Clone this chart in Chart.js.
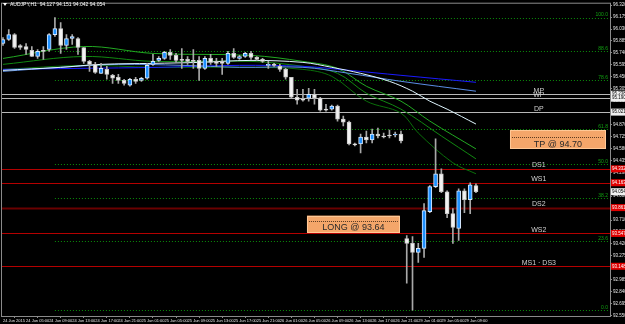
<!DOCTYPE html>
<html><head><meta charset="utf-8">
<script src="https://cdn.jsdelivr.net/npm/chart.js@4/dist/chart.umd.min.js"></script>
<style>html,body{margin:0;padding:0;background:#000;overflow:hidden}#wrap{width:625px;height:324px}</style>
</head><body><div id="wrap"><canvas id="c" width="625" height="324"></canvas></div>
<script>
// ---------- DATA ----------
const titleText = "AUDJPY,H1  94.127 94.151 94.042 94.054";
const opens = [95.855,95.903,95.963,95.830,95.818,95.770,95.697,95.770,95.782,95.963,96.036,95.830,95.915,95.915,95.806,95.637,95.601,95.492,95.540,95.468,95.444,95.407,95.347,95.420,95.407,95.432,95.601,95.649,95.673,95.746,95.710,95.661,95.661,95.649,95.649,95.552,95.673,95.637,95.637,95.613,95.734,95.673,95.697,95.734,95.685,95.661,95.589,95.601,95.577,95.540,95.444,95.202,95.178,95.190,95.238,95.190,95.057,95.057,95.093,94.936,94.900,94.634,94.634,94.719,94.682,94.755,94.731,94.743,94.743,94.755,93.486,93.426,93.317,93.365,93.812,94.115,94.272,94.054,93.788,93.607,94.066,93.957,94.127];
const highs = [95.927,96.024,95.975,95.842,95.855,95.818,95.782,95.818,95.975,96.169,96.108,95.963,95.963,95.927,95.806,95.649,95.625,95.613,95.577,95.480,95.480,95.420,95.432,95.444,95.444,95.613,95.722,95.697,95.758,95.782,95.734,95.794,95.697,95.782,95.697,95.697,95.722,95.673,95.673,95.758,95.794,95.710,95.746,95.758,95.697,95.673,95.637,95.613,95.601,95.552,95.444,95.299,95.299,95.311,95.299,95.202,95.117,95.105,95.105,94.972,94.912,94.646,94.755,94.791,94.815,94.827,94.767,94.803,94.779,94.791,93.522,93.510,93.426,93.909,94.127,94.695,94.332,94.066,93.849,94.090,94.090,94.163,94.151];
const lows = [95.830,95.891,95.794,95.782,95.722,95.697,95.673,95.661,95.758,95.939,95.734,95.782,95.842,95.722,95.613,95.516,95.492,95.492,95.420,95.371,95.371,95.347,95.335,95.371,95.395,95.420,95.589,95.637,95.661,95.661,95.625,95.552,95.601,95.552,95.407,95.540,95.601,95.577,95.480,95.601,95.673,95.661,95.685,95.661,95.649,95.625,95.552,95.577,95.516,95.420,95.190,95.117,95.154,95.154,95.117,95.033,95.033,95.045,94.912,94.852,94.622,94.610,94.525,94.646,94.646,94.707,94.707,94.707,94.719,94.646,92.943,92.616,93.196,93.257,93.800,94.102,94.042,93.740,93.426,93.462,93.800,93.788,94.042];
const closes = [95.903,95.963,95.806,95.806,95.782,95.697,95.758,95.758,95.963,96.036,95.830,95.915,95.939,95.806,95.637,95.601,95.504,95.552,95.480,95.432,95.407,95.371,95.420,95.395,95.432,95.589,95.637,95.673,95.746,95.710,95.649,95.649,95.637,95.637,95.552,95.673,95.625,95.613,95.613,95.734,95.685,95.697,95.734,95.685,95.661,95.637,95.601,95.589,95.540,95.444,95.202,95.166,95.166,95.238,95.190,95.045,95.045,95.093,94.936,94.900,94.634,94.622,94.719,94.682,94.755,94.731,94.719,94.731,94.755,94.670,93.426,93.317,93.365,93.825,94.115,94.272,94.054,93.788,93.619,94.066,93.957,94.139,94.054];

// moving averages: [barIndex, price]
const maBlue = [[0,95.540],[13,95.552],[27,95.565],[41,95.589],[52,95.577],[60,95.528],[69,95.468],[82,95.383]];
const maSteel = [[0,95.516],[10,95.565],[20,95.601],[31,95.589],[41,95.565],[52,95.565],[60,95.492],[69,95.395],[82,95.275]];
const maCyan = [[0,95.528],[10,95.565],[17,95.601],[26,95.613],[34,95.625],[43,95.649],[52,95.625],[57,95.565],[62,95.492],[67,95.395],[71,95.275],[74,95.154],[77,95.057],[82,94.876]];
const maGreen1 = [[0,95.673],[14,95.818],[26,95.734],[43,95.710],[52,95.637],[58,95.552],[63,95.335],[69,95.154],[74,94.912],[82,94.574]];
const maGreen2 = [[0,95.601],[14,95.697],[26,95.637],[43,95.637],[52,95.577],[58,95.492],[63,95.250],[69,95.057],[76,94.731],[82,94.453]];
const maGreen3 = [[0,95.540],[14,95.589],[26,95.565],[43,95.565],[52,95.540],[57,95.456],[63,95.154],[69,95.009],[72,94.767],[78,94.405],[82,94.272]];

// fibonacci levels (drawn from bar 9 to the right)
const fibStartIdx = 9;
const fibLabels = ["100.0","88.6","78.6","61.8","50.0","38.2","23.6","0.0"];
const fibPrices = [96.169,95.764,95.409,94.812,94.393,93.973,93.455,92.616];

// pivot levels
const pivotNames = ["MP","WP","DP","DS1","WS1","DS2","WS2","MS1 · DS3"];
const pivotPrices = [95.238,95.190,95.021,94.332,94.163,93.861,93.547,93.148];
const pivotKinds = ["grey","grey","grey","red","red","dark","red","red"];
const pivotLabelIdx = 92.9;

// trade boxes
const tradeTexts = ["TP @ 94.70","LONG @ 93.64"];
const tradeFromIdx = [87.9,52.7];
const tradeToIdx = [104.5,68.8];
const tradeTop = [94.803,93.764];
const tradeBottom = [94.574,93.559];
const tradeLine = [94.719,93.695];

const lastPrice = 94.054;

// axis ticks
const xTickIdx = [0,4,8,12,16,20,24,28,32,36,40,44,48,52,56,60,64,68,72,76,80];
const xTickLabels = ["24 Jun 2015","24 Jun 05:00","24 Jun 09:00","24 Jun 13:00","24 Jun 17:00","24 Jun 21:00","25 Jun 01:00","25 Jun 05:00","25 Jun 09:00","25 Jun 13:00","25 Jun 17:00","25 Jun 21:00","26 Jun 01:00","26 Jun 05:00","26 Jun 09:00","26 Jun 13:00","26 Jun 17:00","26 Jun 21:00","29 Jun 01:00","29 Jun 05:00","29 Jun 09:00"];
const yTicks = [96.320,96.175,96.030,95.885,95.740,95.595,95.450,95.305,95.160,95.015,94.870,94.725,94.580,94.435,94.290,94.145,94.000,93.855,93.710,93.565,93.420,93.275,93.130,92.985,92.840,92.695,92.550];

// ---------- CHART ----------
const BULL = '#1e90ff', BEAR = '#f2f2f2';
const isBull = i => closes[i] >= opens[i];
const wickData = highs.map((h,i)=>({x:i, y:[lows[i], h]}));
const bodyData = opens.map((o,i)=>({x:i, y:[Math.min(o,closes[i]), Math.max(o,closes[i])]}));
const toXY = arr => arr.map(p=>({x:p[0], y:p[1]}));
function lineDS(arr,color){ return {type:'line', data:toXY(arr), borderColor:color, borderWidth:1, pointRadius:0, tension:0.35, fill:false}; }

const overlay = {
  id:'overlay',
  beforeDraw(chart){ const c=chart.ctx; c.save(); c.fillStyle='#000'; c.fillRect(0,0,chart.width,chart.height); c.restore(); },
  beforeDatasetsDraw(chart){
    const {ctx:c, chartArea:a, scales:{x,y}} = chart;
    c.save();
    c.lineWidth = 1;
    c.setLineDash([1,2]); c.strokeStyle = '#0b8f0b';
    fibPrices.forEach(p=>{ const py=Math.round(y.getPixelForValue(p))+0.5; c.beginPath(); c.moveTo(x.getPixelForValue(fibStartIdx),py); c.lineTo(a.right-2,py); c.stroke(); });
    c.setLineDash([]);
    pivotPrices.forEach((p,i)=>{
      const py=Math.round(y.getPixelForValue(p))+0.5;
      c.strokeStyle = pivotKinds[i]==='grey' ? '#b8b8b8' : (pivotKinds[i]==='dark' ? '#6a0000' : '#b40000');
      c.lineWidth = pivotKinds[i]==='dark' ? 2 : 1;
      c.beginPath(); c.moveTo(a.left,py); c.lineTo(a.right,py); c.stroke();
    });
    c.restore();
  },
  afterDraw(chart){
    const {ctx:c, chartArea:a, scales:{x,y}} = chart;
    c.save();
    // fib labels
    c.fillStyle = '#10a010'; c.font = '5px Arial'; c.textAlign='right'; c.textBaseline='bottom';
    fibPrices.forEach((p,i)=>{ c.fillText(fibLabels[i], a.right-2, y.getPixelForValue(p)); });
    // pivot labels
    c.fillStyle = '#cfcfcf'; c.font = '7px Arial'; c.textAlign='center'; c.textBaseline='bottom';
    pivotPrices.forEach((p,i)=>{ c.fillText(pivotNames[i], x.getPixelForValue(pivotLabelIdx), y.getPixelForValue(p)); });
    // trade boxes
    tradeTexts.forEach((t,i)=>{
      const x0=x.getPixelForValue(tradeFromIdx[i]), x1=x.getPixelForValue(tradeToIdx[i]);
      const y0=y.getPixelForValue(tradeTop[i]), y1=y.getPixelForValue(tradeBottom[i]);
      c.fillStyle='#f4a66a'; c.fillRect(x0,y0,x1-x0,y1-y0);
      c.strokeStyle='#ffc896'; c.lineWidth=1; c.strokeRect(Math.round(x0)+0.5,Math.round(y0)+0.5,Math.round(x1-x0)-1,Math.round(y1-y0)-1);
      const ly=Math.round(y.getPixelForValue(tradeLine[i]))+0.5;
      c.setLineDash([1,1]); c.strokeStyle='#5a3a20'; c.beginPath(); c.moveTo(x0+2,ly); c.lineTo(x1-2,ly); c.stroke(); c.setLineDash([]);
      c.fillStyle='#2a2a2a'; c.font='9px Arial'; c.textAlign='center'; c.textBaseline='middle';
      c.fillText(t,(x0+x1)/2,(ly+y1)/2+1);
    });
    // axis price boxes
    c.font='4.5px Arial'; c.textAlign='left'; c.textBaseline='middle';
    pivotPrices.forEach((p,i)=>{
      const py=y.getPixelForValue(p);
      const red = pivotKinds[i]!=='grey';
      c.fillStyle = red ? '#e00000' : '#f0f0f0'; c.fillRect(a.right+1,py-3.5,14,7);
      c.fillStyle = red ? '#ffffff' : '#000000'; c.fillText(p.toFixed(3), a.right+2, py);
    });
    const lp=y.getPixelForValue(lastPrice);
    c.fillStyle='#f0f0f0'; c.fillRect(a.right+1,lp-3.5,14,7);
    c.fillStyle='#000'; c.fillText(lastPrice.toFixed(3), a.right+2, lp);
    // frame
    c.strokeStyle='#8a8a8a'; c.lineWidth=1; c.strokeRect(a.left-0.5,a.top-0.5,a.right-a.left+1,a.bottom-a.top+1);
    // title
    c.fillStyle='#ffffff'; c.beginPath(); c.moveTo(3,3); c.lineTo(7,3); c.lineTo(5,6); c.closePath(); c.fill();
    c.font='5px Arial'; c.textAlign='left'; c.textBaseline='middle'; c.fillText(titleText,10,5);
    c.restore();
  }
};

new Chart(document.getElementById('c'), {
  type:'bar',
  data:{ datasets:[
    {type:'bar', data:bodyData, grouped:false, barThickness:4, minBarLength:1, borderSkipped:false, borderWidth:1,
      backgroundColor: ctx=> isBull(ctx.dataIndex)?BULL:BEAR, borderColor: ctx=> isBull(ctx.dataIndex)?'#d6e8ff':'#c8c8c8'},
    {type:'bar', data:wickData, grouped:false, barThickness:1, borderWidth:0, backgroundColor:'#a8a8a8'},
    lineDS(maCyan,'#dff6ff'),
    lineDS(maSteel,'#5b8ee6'),
    lineDS(maBlue,'#1a1aff'),
    lineDS(maGreen1,'#22a822'),
    lineDS(maGreen2,'#118811'),
    lineDS(maGreen3,'#0a6e0a')
  ]},
  options:{
    responsive:false, animation:false, events:[],
    layout:{padding:{left:2,top:2,right:0,bottom:0}},
    plugins:{legend:{display:false}, tooltip:{enabled:false}},
    scales:{
      x:{type:'linear', min:-0.173, max:105.24, offset:false,
        grid:{drawOnChartArea:false, tickLength:2, color:'#8a8a8a'}, border:{color:'#8a8a8a'},
        afterBuildTicks: s=>{ s.ticks = xTickIdx.map(v=>({value:v})); },
        afterFit: s=>{ s.height = 8; },
        ticks:{autoSkip:false, maxRotation:0, minRotation:0, align:'start', padding:0, color:'#e6e6e6', font:{size:4, family:'Arial'},
          callback: v=> xTickLabels[xTickIdx.indexOf(v)] }},
      y:{type:'linear', position:'right', min:92.544, max:96.338,
        grid:{drawOnChartArea:false, tickLength:2, color:'#8a8a8a'}, border:{color:'#8a8a8a'},
        afterBuildTicks: s=>{ s.ticks = yTicks.map(v=>({value:v})); },
        afterFit: s=>{ s.width = 15; },
        ticks:{autoSkip:false, padding:1, color:'#e6e6e6', font:{size:4.5, family:'Arial'}, callback: v=> Number(v).toFixed(3)}}
    }
  },
  plugins:[overlay]
});
</script></body></html>
